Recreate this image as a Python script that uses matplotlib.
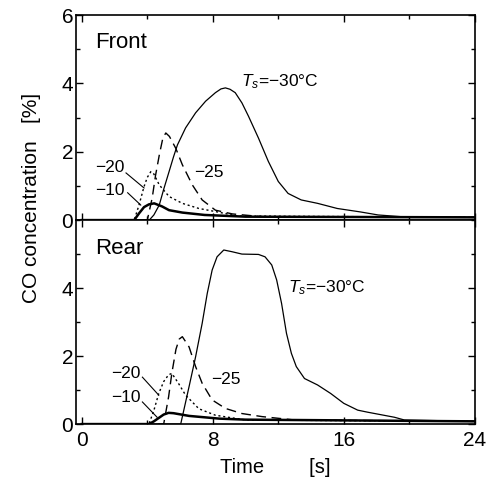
import matplotlib
matplotlib.use("Agg")
import matplotlib.pyplot as plt
from matplotlib.ticker import MultipleLocator

plt.rcParams['font.family'] = ['Liberation Sans', 'DejaVu Sans']
plt.rcParams['mathtext.fontset'] = 'custom'
plt.rcParams['mathtext.rm'] = 'Liberation Sans'
plt.rcParams['mathtext.it'] = 'Liberation Sans:italic'

# ---- Front panel data (time [s], CO [%]) ----
front_m30_t = [0, 4.12, 4.4, 4.73, 5.0, 5.33, 5.6, 5.84, 6.34, 6.95, 7.56, 8.16, 8.5, 8.77, 9.05, 9.37, 9.78, 10.18, 10.79, 11.39, 12.0, 12.6, 13.4, 14.4, 15.6, 17.0, 18.1, 19.5, 24]
front_m30_c = [0, 0, 0.15, 0.44, 0.9, 1.42, 1.85, 2.2, 2.7, 3.14, 3.48, 3.73, 3.84, 3.87, 3.83, 3.73, 3.43, 3.04, 2.4, 1.72, 1.13, 0.78, 0.59, 0.49, 0.34, 0.24, 0.15, 0.1, 0.08]
front_m25_t = [0, 4.0, 4.3, 4.5, 4.75, 4.95, 5.13, 5.35, 5.74, 6.14, 6.75, 7.35, 8.16, 9.2, 11.0, 24]
front_m25_c = [0, 0, 0.65, 1.3, 1.95, 2.4, 2.55, 2.45, 2.1, 1.62, 1.03, 0.59, 0.29, 0.18, 0.1, 0.08]
front_m20_t = [0, 3.2, 3.5, 3.8, 4.0, 4.22, 4.4, 4.73, 5.33, 6.14, 7.15, 8.16, 9.5, 24]
front_m20_c = [0, 0, 0.45, 0.98, 1.25, 1.42, 1.35, 1.03, 0.69, 0.49, 0.34, 0.25, 0.12, 0.08]
front_m10_t = [0, 3.2, 3.5, 3.8, 4.1, 4.42, 4.9, 5.33, 6.14, 7.5, 10.0, 24]
front_m10_c = [0, 0, 0.2, 0.38, 0.46, 0.49, 0.4, 0.29, 0.22, 0.15, 0.1, 0.08]

# ---- Rear panel data ----
rear_m30_t = [0, 6.04, 6.55, 6.95, 7.35, 7.66, 7.96, 8.26, 8.67, 9.17, 9.78, 10.79, 11.19, 11.6, 11.9, 12.2, 12.5, 12.8, 13.1, 13.6, 14.4, 15.2, 16.0, 16.85, 17.45, 19.1, 19.7, 24]
rear_m30_c = [0, 0, 1.1, 1.98, 2.96, 3.84, 4.53, 4.92, 5.12, 5.07, 5.0, 4.99, 4.92, 4.68, 4.24, 3.55, 2.67, 2.08, 1.69, 1.34, 1.15, 0.9, 0.61, 0.41, 0.35, 0.2, 0.12, 0.08]
rear_m25_t = [0, 5.0, 5.3, 5.5, 5.75, 5.95, 6.14, 6.55, 6.95, 7.35, 7.96, 8.77, 9.78, 11.0, 13.0, 24]
rear_m25_c = [0, 0, 0.8, 1.5, 2.2, 2.5, 2.57, 2.27, 1.69, 1.2, 0.71, 0.46, 0.31, 0.22, 0.12, 0.08]
rear_m20_t = [0, 4.1, 4.4, 4.7, 5.0, 5.3, 5.5, 5.9, 6.34, 7.15, 8.16, 10.0, 24]
rear_m20_c = [0, 0, 0.4, 0.9, 1.25, 1.45, 1.49, 1.2, 0.85, 0.45, 0.26, 0.12, 0.08]
rear_m10_t = [0, 4.1, 4.4, 4.7, 5.0, 5.3, 5.6, 6.55, 8.4, 10.0, 24]
rear_m10_c = [0, 0, 0.08, 0.18, 0.28, 0.33, 0.32, 0.24, 0.16, 0.13, 0.08]

fig = plt.figure(figsize=(4.93, 4.88), dpi=100)
ax_top = fig.add_axes([0.154, 0.549, 0.809, 0.420])
ax_bot = fig.add_axes([0.154, 0.131, 0.809, 0.418])

def style(ax, show_xlabels, ylabels):
    ax.set_xlim(-0.36, 24)
    ax.set_ylim(0, 6)
    ax.xaxis.set_major_locator(MultipleLocator(8))
    ax.xaxis.set_minor_locator(MultipleLocator(4))
    ax.yaxis.set_major_locator(MultipleLocator(2))
    ax.yaxis.set_minor_locator(MultipleLocator(1))
    ax.tick_params(which='both', direction='in', top=True, right=True, labelsize=15, width=1)
    ax.tick_params(which='major', length=5)
    ax.tick_params(which='minor', length=3)
    ax.tick_params(axis='y', which='major', pad=2)
    ax.tick_params(axis='x', which='major', pad=5)
    ax.set_yticks(ylabels)
    ax.set_yticklabels([str(v) for v in ylabels])
    if not show_xlabels:
        ax.tick_params(labelbottom=False)
    for s in ax.spines.values():
        s.set_linewidth(1.2)

kw30 = dict(color='black', lw=0.9, ls='-')
kw25 = dict(color='black', lw=1.0, ls=(0, (7, 4)))
kw20 = dict(color='black', lw=1.0, ls=(0, (1.5, 2)))
kw10 = dict(color='black', lw=1.8, ls='-')

ax_top.plot(front_m30_t, front_m30_c, **kw30)
ax_top.plot(front_m25_t, front_m25_c, **kw25)
ax_top.plot(front_m20_t, front_m20_c, **kw20)
ax_top.plot(front_m10_t, front_m10_c, **kw10)

ax_bot.plot(rear_m30_t, rear_m30_c, **kw30)
ax_bot.plot(rear_m25_t, rear_m25_c, **kw25)
ax_bot.plot(rear_m20_t, rear_m20_c, **kw20)
ax_bot.plot(rear_m10_t, rear_m10_c, **kw10)

style(ax_top, False, [0, 2, 4, 6])
style(ax_bot, True, [0, 2, 4])

fs = 12.5
# Top annotations
ax_top.text(0.8, 5.2, 'Front', fontsize=16, va='center', ha='left')
ax_top.text(9.7, 4.06, r'$T_s$=−30°C', fontsize=fs, va='center', ha='left')
ax_top.text(6.85, 1.38, '−25', fontsize=fs, va='center', ha='left')
ax_top.text(2.6, 1.53, '−20', fontsize=fs, va='center', ha='right')
ax_top.text(2.6, 0.88, '−10', fontsize=fs, va='center', ha='right')
ax_top.plot([2.7, 3.8], [1.38, 0.94], color='black', lw=0.8)
ax_top.plot([2.8, 3.6], [0.8, 0.44], color='black', lw=0.8)

# Bottom annotations
ax_bot.text(0.8, 5.15, 'Rear', fontsize=16, va='center', ha='left')
ax_bot.text(12.6, 4.0, r'$T_s$=−30°C', fontsize=fs, va='center', ha='left')
ax_bot.text(7.9, 1.3, '−25', fontsize=fs, va='center', ha='left')
ax_bot.text(3.6, 1.5, '−20', fontsize=fs, va='center', ha='right')
ax_bot.text(3.6, 0.77, '−10', fontsize=fs, va='center', ha='right')
ax_bot.plot([3.7, 4.7], [1.38, 0.85], color='black', lw=0.8)
ax_bot.plot([3.7, 4.6], [0.65, 0.2], color='black', lw=0.8)

ax_bot.set_xlabel('Time        [s]', fontsize=14.5, labelpad=6)
fig.text(0.063, 0.594, 'CO concentration   [%]', rotation=90, fontsize=15, va='center', ha='center')

fig.savefig('out.png', dpi=100)
